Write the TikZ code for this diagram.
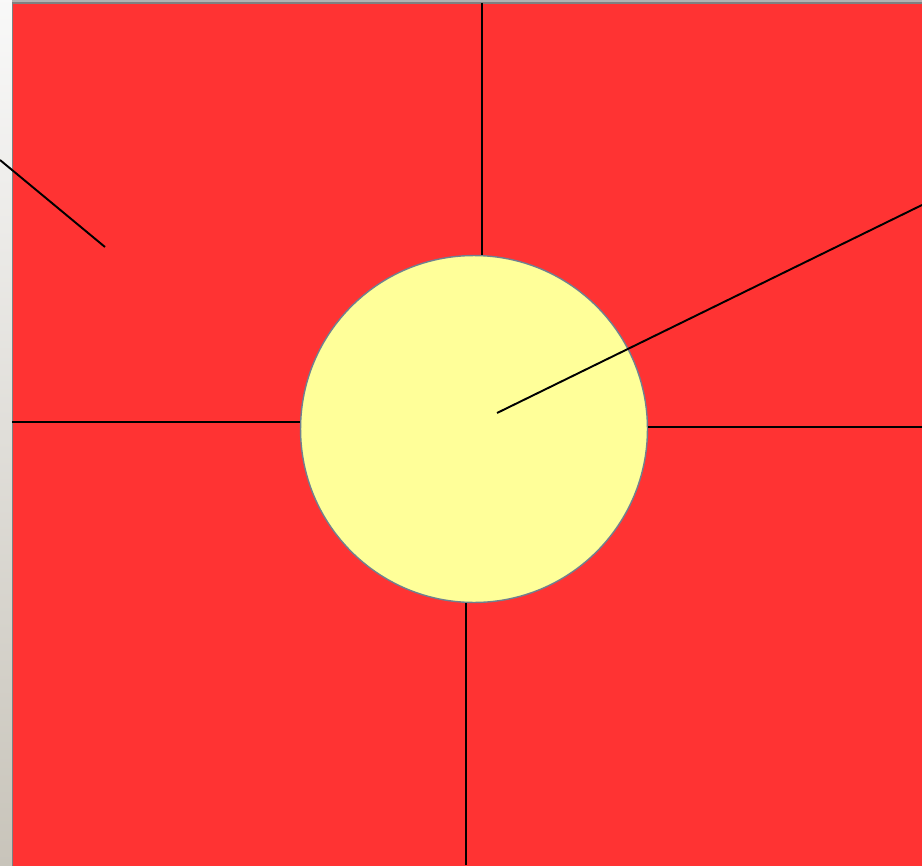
\documentclass[tikz,border=0pt]{standalone}
\usetikzlibrary{calc}
\definecolor{flagred}{RGB}{255,51,51}
\definecolor{sunyellow}{RGB}{255,255,153}
\definecolor{rimgray}{RGB}{112,128,144}
\definecolor{stripbeige}{RGB}{200,196,186}
\begin{document}
\begin{tikzpicture}[x=0.02cm,y=-0.02cm,
  bg/.style={draw=gray,line width=0.8pt,fill=flagred},
  sun/.style={circle,draw=rimgray,line width=0.8pt,fill=sunyellow,minimum size=6.94cm,inner sep=0pt},
  ray/.style={draw=black,line width=1.1pt}]
\useasboundingbox (0,0) rectangle (922,865);
% strip at the left and the edge at the top
\shade[top color=white!95!gray,bottom color=stripbeige] (0,0) rectangle (12,865);
\fill[gray!60] (12,0) rectangle (922,2);
\draw[bg] (12.5,3) rectangle (925,870);
\node[sun] (c) at (474,429) {};
\coordinate (t) at (482,3);
\coordinate (b) at (466,865);
\coordinate (l) at (12,422);
\coordinate (r) at (922,427);
\coordinate (ul0) at (0,160);
\coordinate (ul1) at (105,247);
\coordinate (ur0) at (497,413);
\coordinate (ur1) at (922,205);
\draw[ray] (t) -- (c.north -| t);
\draw[ray] (b) -- (c.south -| b);
\draw[ray] (l) -- (c.west |- l);
\draw[ray] (r) -- (c.east |- r);
\draw[ray] (ul0) -- (ul1);
\draw[ray] (ur0) -- (ur1);
\end{tikzpicture}
\end{document}
